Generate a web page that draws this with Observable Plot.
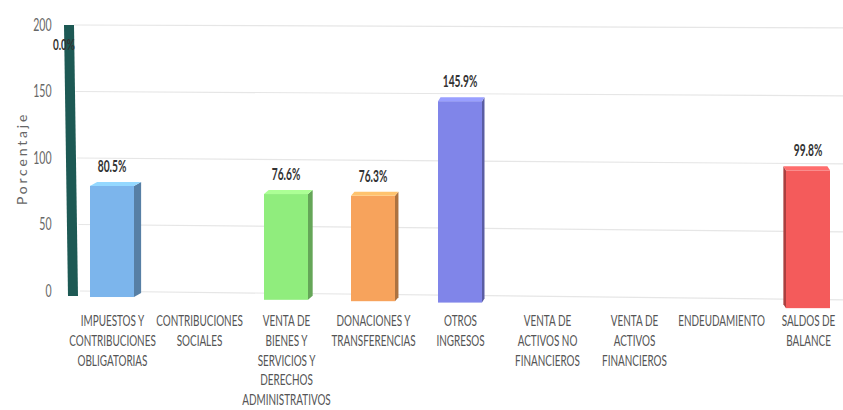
<!DOCTYPE html>
<html><head><meta charset="utf-8">
<script src="https://cdn.jsdelivr.net/npm/d3@7"></script>
<script src="https://cdn.jsdelivr.net/npm/@observablehq/plot@0.6"></script>
<style>
html,body{margin:0;padding:0;background:#fff;overflow:hidden;width:843px;height:410px}
#chart svg{display:block;max-width:none !important}
#chart g[aria-label="y-axis label"] text{letter-spacing:2.8px}
</style></head><body><div id="chart"></div>
<script>
const categories = ["IMP","CS","VBS","DON","OTR","VANF","VAF","END","SAL"];
const labels = [
  "IMPUESTOS Y\nCONTRIBUCIONES\nOBLIGATORIAS",
  "CONTRIBUCIONES\nSOCIALES",
  "VENTA DE\nBIENES Y\nSERVICIOS Y\nDERECHOS\nADMINISTRATIVOS",
  "DONACIONES Y\nTRANSFERENCIAS",
  "OTROS\nINGRESOS",
  "VENTA DE\nACTIVOS NO\nFINANCIEROS",
  "VENTA DE\nACTIVOS\nFINANCIEROS",
  "ENDEUDAMIENTO",
  "SALDOS DE\nBALANCE"
];
const values = [80.5, 0, 76.6, 76.3, 145.9, 0, 0, 0, 99.8];
const colors = ["#7cb5ec","#434348","#90ed7d","#f7a35c","#8085e9","#f15c80","#e4d354","#2b908f","#f45b5b"];
const yTicks = [0, 50, 100, 150, 200];
const wallValue = [200];
const wallLabel = ["0.0%"];

const data = categories.map((c, i) => ({cat: c, label: labels[i], value: values[i], color: colors[i]}));
const labelOf = new Map(categories.map((c, i) => [c, labels[i]]));
const FONT = 'Lato,"DejaVu Sans",sans-serif';
const SX = 0.62; // horizontal compression of text, like the reference
const ns = "http://www.w3.org/2000/svg";

function el(name, attrs) {
  const e = document.createElementNS(ns, name);
  for (const k in attrs) e.setAttribute(k, attrs[k]);
  return e;
}
function poly(points, fill) {
  return el("polygon", {points: points.map(q => q.join(",")).join(" "), fill});
}

// perspective helpers
const K = 1.038;                       // bars stand in front of the back wall
const base = (y0, cx) => y0 + 6 + (cx - 111) * 0.016;

const grid = (index, scales, values, dimensions) => {
  const {y} = scales;
  const ml = dimensions.marginLeft;
  const g = el("g", {"aria-label": "grid"});
  for (const t of yTicks) {
    const f = 1 - t / 200;
    g.appendChild(el("line", {x1: ml + 1 + 6 * f, y1: y(t), x2: 860, y2: y(t) + 3 + 6 * f,
      stroke: "#e6e6e6", "stroke-width": 1.2}));
  }
  return g;
};

const wall = (index, scales, values, dimensions) => {
  const {y} = scales;
  const ml = dimensions.marginLeft;
  const yt = y(wallValue[0]), y0 = y(0);
  const g = el("g", {"aria-label": "wall"});
  g.appendChild(poly([[ml - 9, yt], [ml + 1, yt], [ml + 5, y0 + 5], [ml - 5, y0 + 5]], "#1d5954"));
  const tx = el("text", {transform: `translate(${ml - 9},${yt + 25}) scale(${SX},1)`, "text-anchor": "middle",
    "font-size": 16, "font-weight": "bold", fill: "#333"});
  tx.textContent = wallLabel[0];
  g.appendChild(tx);
  return g;
};

const bars3d = Plot.barY(data, {
  x: "cat", y: "value", fill: "color",
  render(index, scales, values, dimensions) {
    const {x, y} = scales;
    const bw = x.bandwidth();
    const y0 = y(0);
    const g = el("g", {"aria-label": "bar"});
    for (const i of index) {
      const d = data[i];
      if (!(d.value > 0)) continue;
      const xa = x(d.cat), xb = xa + bw, cx = xa + bw / 2;
      const yb = base(y0, cx);
      const yt = yb - (y0 - y(d.value)) * K;
      let dx = (620 - cx) * 0.014;
      if (Math.abs(dx) < 2.5) dx = dx < 0 ? -2.5 : 2.5;
      const dy = 4;
      const sx = dx >= 0 ? xb : xa;
      const c = d3.color(d.color);
      g.appendChild(el("rect", {x: xa, y: yt, width: bw, height: yb - yt, fill: d.color}));
      g.appendChild(poly([[sx, yt], [sx + dx, yt - dy], [sx + dx, yb - dy], [sx, yb]], c.darker(1).formatHex()));
      g.appendChild(poly([[xa, yt], [xa + dx, yt - dy], [xb + dx, yt - dy], [xb, yt]], c.brighter(0.5).formatHex()));
      const tx = el("text", {transform: `translate(${cx},${yt - 14}) scale(${SX},1)`, "text-anchor": "middle",
        "font-size": 16.5, "font-weight": "bold", fill: "#333"});
      tx.textContent = d.value.toFixed(1) + "%";
      g.appendChild(tx);
    }
    return g;
  }
});

const chart = Plot.plot({
  width: 860,
  height: 410,
  marginLeft: 73,
  marginRight: 14,
  marginTop: 25,
  marginBottom: 119,
  style: {fontFamily: FONT, background: "#fff"},
  color: {type: "identity"},
  x: {domain: categories, paddingInner: 0.5, paddingOuter: 0.186},
  y: {domain: [0, 200]},
  marks: [
    grid,
    Plot.axisY({ticks: yTicks, tickSize: 0, tickPadding: 22, fontSize: 17, color: "#666",
      label: "Porcentaje", labelAnchor: "center", labelArrow: false, labelOffset: 56}),
    Plot.axisX({tickSize: 0, tickPadding: 21, fontSize: 16, lineHeight: 1.23, color: "#555",
      tickFormat: d => labelOf.get(d), label: null}),
    wall,
    bars3d
  ]
});

// compress tick label text horizontally around its anchor
chart.querySelectorAll('g[aria-label="x-axis tick label"] text, g[aria-label="y-axis tick label"] text').forEach(t => {
  const tr = t.getAttribute("transform");
  if (tr) {
    t.setAttribute("transform", `${tr} scale(${SX},1)`);
  } else {
    const x = parseFloat(t.getAttribute("x") || 0);
    if (isFinite(x)) {
      t.setAttribute("x", x / SX);
      t.setAttribute("transform", `scale(${SX},1)`);
    }
  }
});
const yl = chart.querySelector('g[aria-label="y-axis label"] text');
if (yl) yl.setAttribute("font-size", 14);
document.getElementById("chart").appendChild(chart);
</script></body></html>
